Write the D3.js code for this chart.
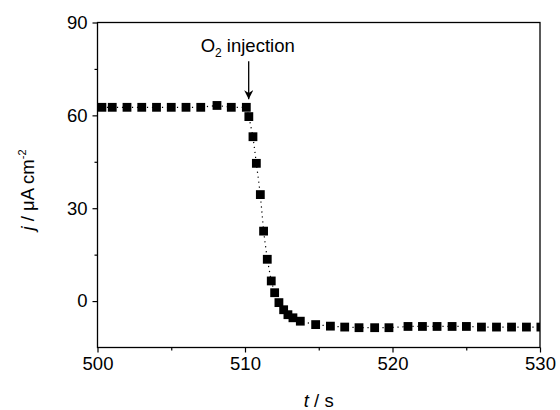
<!DOCTYPE html>
<html>
<head>
<meta charset="utf-8">
<script src="https://cdn.jsdelivr.net/npm/d3@7"></script>
<style>
  html, body { margin: 0; padding: 0; background: #fff; }
  svg { display: block; }
  text { font-family: "Liberation Sans", Arial, sans-serif; fill: #000; }
</style>
</head>
<body>
<div id="chart"></div>
<script>
// ---- data ----
const timeS = [500.3, 501.0, 502.0, 503.0, 504.0, 505.0, 506.0, 507.0, 508.1, 509.07, 510.09,
  510.26, 510.54, 510.77, 511.04, 511.26, 511.51, 511.78, 512.01, 512.30, 512.62, 512.91,
  513.25, 513.75, 514.79, 515.79, 516.76, 517.73, 518.79, 519.76, 521.05, 522.03, 523.02,
  524.04, 525.01, 526.03, 527.05, 528.07, 529.08, 530.06];
const currentDensity = [62.6, 62.6, 62.6, 62.6, 62.6, 62.6, 62.6, 62.6, 63.2, 62.6, 62.6,
  59.6, 53.1, 44.5, 34.4, 22.6, 13.5, 6.5, 2.7, -0.5, -2.8, -4.4,
  -5.4, -6.5, -7.6, -8.1, -8.4, -8.6, -8.6, -8.6, -8.2, -8.2, -8.2,
  -8.2, -8.2, -8.4, -8.4, -8.4, -8.4, -8.4];
const xMajorTicks = [500, 510, 520, 530];
const xMinorTicks = [505, 515, 525];
const yMajorTicks = [0, 30, 60, 90];
const yMinorTicks = [15, 45, 75];
const xDomain = [500, 530];
const yDomain = [-15, 90];
const annotation = { label: "O", sub: "2", rest: " injection", t: 510.25, yStart: 77.5, yEnd: 65.2, yText: 80.6 };

// ---- layout ----
const W = 560, H = 410;
const M = { left: 97.5, right: 20, top: 22.5, bottom: 62.5 };
const iw = W - M.left - M.right, ih = H - M.top - M.bottom;

const svg = d3.select("#chart").append("svg").attr("width", W).attr("height", H);
const g = svg.append("g").attr("transform", `translate(${M.left},${M.top})`);

const x = d3.scaleLinear().domain(xDomain).range([0, iw]);
const y = d3.scaleLinear().domain(yDomain).range([ih, 0]);

svg.append("defs").append("clipPath").attr("id", "clip")
  .append("rect").attr("x", 0).attr("y", 0).attr("width", iw).attr("height", ih);

const data = timeS.map((t, i) => ({ t, v: currentDensity[i] }));

// dotted connecting line
const plot = g.append("g").attr("clip-path", "url(#clip)");
plot.append("path")
  .datum(data)
  .attr("fill", "none")
  .attr("stroke", "#000")
  .attr("stroke-width", 1.2)
  .attr("stroke-dasharray", "1.2,3.8")
  .attr("d", d3.line().x(d => x(d.t)).y(d => y(d.v)));

// square markers
const s = 8.8;
plot.selectAll("rect.pt").data(data).join("rect")
  .attr("class", "pt")
  .attr("x", d => x(d.t) - s / 2)
  .attr("y", d => y(d.v) - s / 2)
  .attr("width", s).attr("height", s)
  .attr("fill", "#000");

// axes
const fontSize = 18.5;
const xAxis = d3.axisBottom(x).tickValues(xMajorTicks).tickSize(5).tickPadding(4).tickFormat(d3.format("d"));
const yAxis = d3.axisLeft(y).tickValues(yMajorTicks).tickSize(5).tickPadding(5).tickFormat(d3.format("d"));
const gx = g.append("g").attr("transform", `translate(0,${ih})`).call(xAxis);
const gy = g.append("g").call(yAxis);
const gxm = g.append("g").attr("transform", `translate(0,${ih})`)
  .call(d3.axisBottom(x).tickValues(xMinorTicks).tickSize(3).tickFormat(""));
const gym = g.append("g")
  .call(d3.axisLeft(y).tickValues(yMinorTicks).tickSize(3).tickFormat(""));
[gx, gy, gxm, gym].forEach(a => {
  a.select(".domain").remove();
  a.selectAll("line").attr("stroke", "#000").attr("stroke-width", 1.2);
  a.selectAll("text").style("font-size", fontSize + "px")
    .style("font-family", '"Liberation Sans", Arial, sans-serif').attr("fill", "#000");
});

// frame
g.append("rect").attr("x", 0).attr("y", 0).attr("width", iw).attr("height", ih)
  .attr("fill", "none").attr("stroke", "#000").attr("stroke-width", 1.3);

// annotation arrow
const defs = svg.select("defs");
defs.append("marker").attr("id", "arrow").attr("viewBox", "0 0 10 10")
  .attr("refX", 10).attr("refY", 5).attr("markerWidth", 9).attr("markerHeight", 9)
  .attr("markerUnits", "userSpaceOnUse").attr("orient", "auto")
  .append("path").attr("d", "M0,0 L10,5 L0,10 L3,5 Z").attr("fill", "#000");
g.append("line")
  .attr("x1", x(annotation.t)).attr("x2", x(annotation.t))
  .attr("y1", y(annotation.yStart)).attr("y2", y(annotation.yEnd))
  .attr("stroke", "#000").attr("stroke-width", 1.3)
  .attr("marker-end", "url(#arrow)");
const at = g.append("text")
  .attr("x", x(annotation.t) - 1).attr("y", y(annotation.yText))
  .attr("text-anchor", "middle").style("font-size", "18.5px");
at.append("tspan").text(annotation.label);
at.append("tspan").attr("dy", 5).style("font-size", "12px").text(annotation.sub);
at.append("tspan").attr("dy", -5).text(annotation.rest);

// axis titles
const xt = svg.append("text")
  .attr("x", M.left + iw / 2).attr("y", 407)
  .attr("text-anchor", "middle").style("font-size", fontSize + "px");
xt.append("tspan").style("font-style", "italic").text("t");
xt.append("tspan").text(" / s");

const yt = svg.append("text")
  .attr("transform", `translate(34,${M.top + ih / 2 + 5}) rotate(-90)`)
  .attr("text-anchor", "middle").style("font-size", fontSize + "px");
yt.append("tspan").style("font-style", "italic").text("j");
yt.append("tspan").text(" / μA cm");
yt.append("tspan").attr("dy", -8).style("font-size", "11px").text("-2");
</script>
</body>
</html>
